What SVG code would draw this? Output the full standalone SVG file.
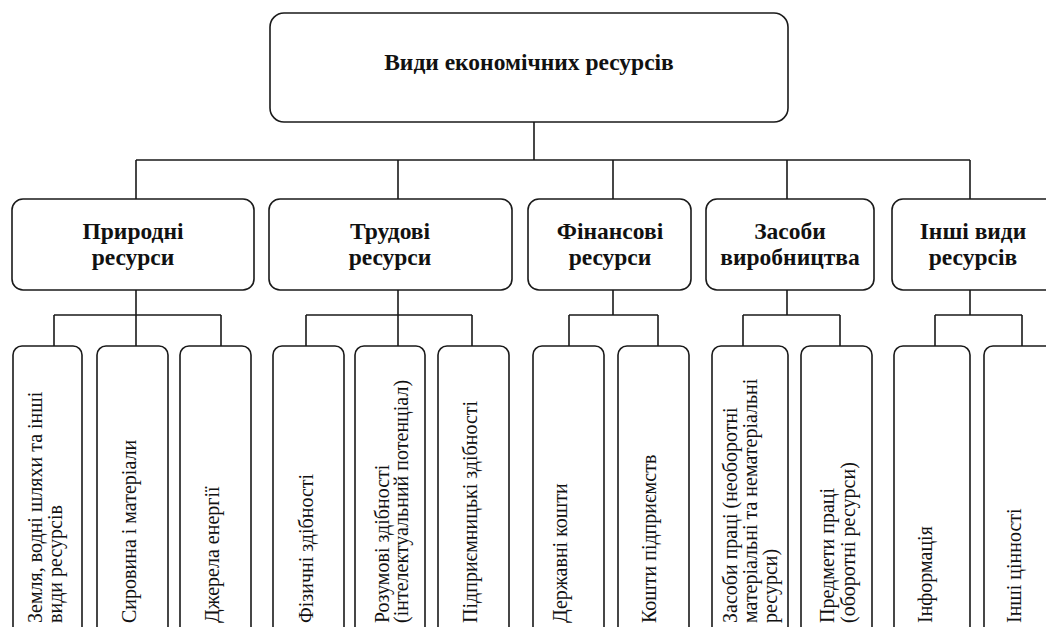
<svg xmlns="http://www.w3.org/2000/svg" width="1046" height="627" viewBox="0 0 1046 627">
<style>
.box{fill:#fff;stroke:#1a1a1a;stroke-width:1.6}
.ln{fill:none;stroke:#1a1a1a;stroke-width:1.6}
.h{font-family:'Liberation Serif','DejaVu Serif',serif;font-weight:bold;font-size:23.5px;fill:#111;text-anchor:middle}
.v{font-family:'Liberation Serif','DejaVu Serif',serif;font-size:20px;fill:#111}
</style>
<rect width="1046" height="627" fill="#fff"/>
<g id="connectors">
<path class="ln" d="M534 122V160M136 160H970M136 160V199M398 160V199M613 160V199M787 160V199M970 160V199"/>
<path class="ln" d="M136 290V315M54 315H221M54 315V346M136 315V346M221 315V346"/>
<path class="ln" d="M398 290V315M306 315H472M306 315V346M398 315V346M472 315V346"/>
<path class="ln" d="M613 290V315M569 315H658M569 315V346M658 315V346"/>
<path class="ln" d="M787 290V315M743 315H840M743 315V346M840 315V346"/>
<path class="ln" d="M970 290V315M935 315H1022M935 315V346M1022 315V346"/>
</g>
<g id="root"><rect class="box" x="270" y="13" width="518" height="109" rx="14"/><text class="h" x="529" y="70">Види економічних ресурсів</text></g>
<g id="n1"><rect class="box" x="12" y="199" width="242" height="91" rx="11"/><text class="h" x="133" y="239">Природні</text><text class="h" x="133" y="265">ресурси</text></g>
<g id="n2"><rect class="box" x="269" y="199" width="243" height="91" rx="11"/><text class="h" x="390" y="239">Трудові</text><text class="h" x="390" y="265">ресурси</text></g>
<g id="n3"><rect class="box" x="528" y="199" width="163" height="91" rx="11"/><text class="h" x="610" y="239">Фінансові</text><text class="h" x="610" y="265">ресурси</text></g>
<g id="n4"><rect class="box" x="706" y="199" width="168" height="91" rx="11"/><text class="h" x="790" y="239">Засоби</text><text class="h" x="790" y="265">виробництва</text></g>
<g id="n5"><rect class="box" x="892" y="199" width="170" height="91" rx="11"/><text class="h" x="973" y="239">Інші види</text><text class="h" x="973" y="265">ресурсів</text></g>
<g id="a1"><rect class="box" x="13" y="346" width="69" height="300" rx="9"/><text class="v" transform="translate(42 623) rotate(-90)">Земля, водні шляхи та інші</text><text class="v" transform="translate(62 623) rotate(-90)">види ресурсів</text></g>
<g id="a2"><rect class="box" x="97" y="346" width="71" height="300" rx="9"/><text class="v" transform="translate(136 623) rotate(-90)">Сировина і матеріали</text></g>
<g id="a3"><rect class="box" x="180" y="346" width="71" height="300" rx="9"/><text class="v" transform="translate(219 623) rotate(-90)">Джерела енергії</text></g>
<g id="b1"><rect class="box" x="273" y="346" width="71" height="300" rx="9"/><text class="v" transform="translate(313 623) rotate(-90)">Фізичні здібності</text></g>
<g id="b2"><rect class="box" x="355" y="346" width="70" height="300" rx="9"/><text class="v" transform="translate(389 623) rotate(-90)">Розумові здібності</text><text class="v" transform="translate(408 623) rotate(-90)">(інтелектуальний потенціал)</text></g>
<g id="b3"><rect class="box" x="438" y="346" width="71" height="300" rx="9"/><text class="v" transform="translate(477 623) rotate(-90)">Підприємницькі здібності</text></g>
<g id="c1"><rect class="box" x="533" y="346" width="71" height="300" rx="9"/><text class="v" transform="translate(567 623) rotate(-90)">Державні кошти</text></g>
<g id="c2"><rect class="box" x="618" y="346" width="71" height="300" rx="9"/><text class="v" transform="translate(656 623) rotate(-90)">Кошти підприємств</text></g>
<g id="c3"><rect class="box" x="712" y="346" width="76" height="300" rx="9"/><text class="v" transform="translate(737 623) rotate(-90)">Засоби праці (необоротні</text><text class="v" transform="translate(757 623) rotate(-90)">матеріальні та нематеріальні</text><text class="v" transform="translate(777 623) rotate(-90)">ресурси)</text></g>
<g id="d1"><rect class="box" x="801" y="346" width="71" height="300" rx="9"/><text class="v" transform="translate(834 623) rotate(-90)">Предмети праці</text><text class="v" transform="translate(855 623) rotate(-90)">(оборотні ресурси)</text></g>
<g id="e1"><rect class="box" x="894" y="346" width="76" height="300" rx="9"/><text class="v" transform="translate(932 623) rotate(-90)">Інформація</text></g>
<g id="e2"><rect class="box" x="984" y="346" width="80" height="300" rx="9"/><text class="v" transform="translate(1021 623) rotate(-90)">Інші цінності</text></g>
</svg>
